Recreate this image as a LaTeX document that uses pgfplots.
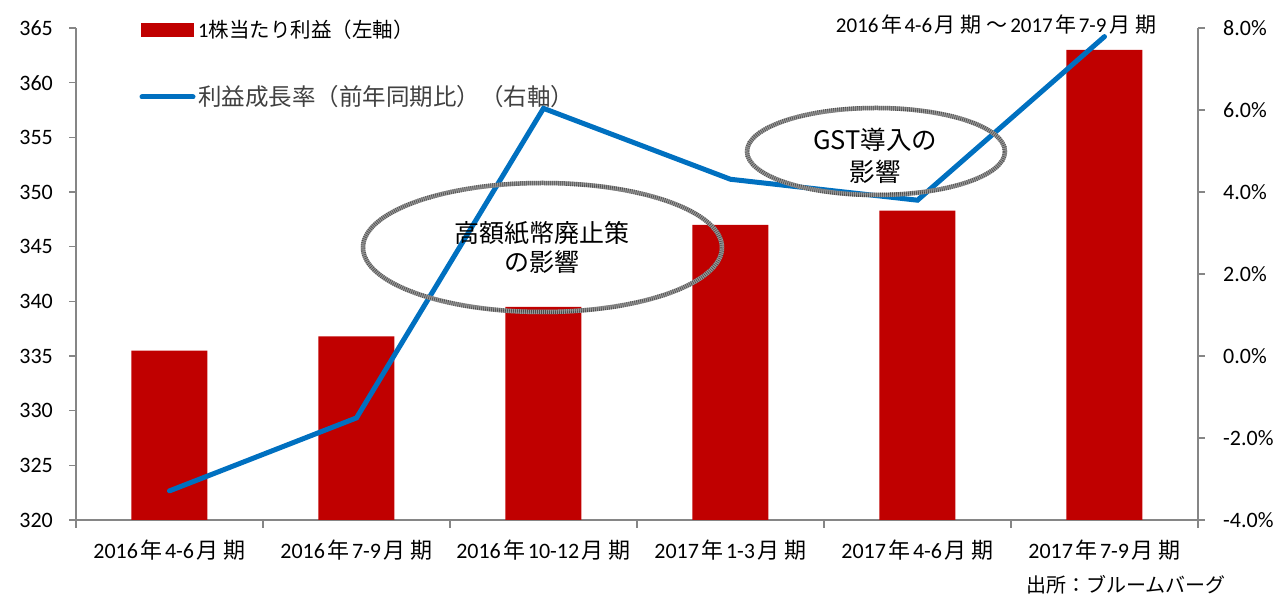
\documentclass[border=0pt]{standalone}
\usepackage{fontspec}
\setmainfont{Carlito}
\newfontfamily\cjk{Noto Sans CJK JP}
\usepackage{pgfplots}
\pgfplotsset{compat=1.18}
\definecolor{barred}{HTML}{C00000}
\definecolor{lineblue}{HTML}{0070C0}
\definecolor{axgray}{HTML}{868686}
\newcommand\jc[1]{\hspace{2.5pt}{\cjk #1}\hspace{2.5pt}}
\begin{document}
\begin{tikzpicture}[x=1pt,y=1pt]
\useasboundingbox (0,0) rectangle (1282,599);
\begin{axis}[
  at={(76pt,79pt)}, anchor=south west,
  scale only axis, width=1122pt, height=492pt,
  xmin=-0.5, xmax=5.5, ymin=320, ymax=365,
  axis x line*=bottom, axis y line*=left,
  axis line style={-, axgray, line width=1.4pt},
  tick align=outside,
  tick style={axgray, line width=1.2pt},
  major tick length=7pt, minor tick length=8pt,
  xtick={0,1,2,3,4,5},
  minor xtick={-0.5,0.5,1.5,2.5,3.5,4.5,5.5},
  major x tick style={draw=none},
  xticklabels={
    2016\jc{年}4-6\jc{月}\jc{期},
    2016\jc{年}7-9\jc{月}\jc{期},
    2016\jc{年}10-12\jc{月}\jc{期},
    2017\jc{年}1-3\jc{月}\jc{期},
    2017\jc{年}4-6\jc{月}\jc{期},
    2017\jc{年}7-9\jc{月}\jc{期}},
  ytick={320,325,330,335,340,345,350,355,360,365},
  /pgf/number format/assume math mode=true,
  tick label style={font=\fontsize{22}{26}\selectfont, text=black},
  xticklabel style={anchor=base, yshift=-32pt},
  yticklabel style={anchor=east, inner sep=0pt, xshift=-16pt},
  clip=false,
]
\addplot[ybar, bar width=76pt, fill=barred, draw=none]
  coordinates {(0,335.5) (1,336.8) (2,339.5) (3,347.0) (4,348.3) (5,363.0)};
\end{axis}
\begin{axis}[
  at={(76pt,79pt)}, anchor=south west,
  scale only axis, width=1122pt, height=492pt,
  xmin=-0.5, xmax=5.5, ymin=-4, ymax=8,
  axis x line=none, axis y line*=right,
  axis line style={-, axgray, line width=1.4pt},
  tick align=outside,
  tick style={axgray, line width=1.2pt},
  major tick length=7pt,
  ytick={-4,-2,0,2,4,6,8},
  yticklabels={-4.0\%,-2.0\%,0.0\%,2.0\%,4.0\%,6.0\%,8.0\%},
  tick label style={font=\fontsize{22}{26}\selectfont, text=black},
  yticklabel style={anchor=west, inner sep=0pt, xshift=18pt},
  clip=false,
]
\addplot[lineblue, line width=5pt, line cap=round]
  coordinates {(0,-3.29) (1,-1.51) (2,6.04) (3,4.31) (4,3.80) (5,7.79)};
\end{axis}
% annotations
\tikzset{ellbase/.style={draw=black!40, line width=4.5pt},
         elltex/.style={draw=black!70, line width=4.5pt, dash pattern=on 0.6pt off 1.4pt}}
\draw[ellbase] (542.5,351.5) ellipse [x radius=179.5pt, y radius=64.5pt];
\draw[elltex] (542.5,351.5) ellipse [x radius=179.5pt, y radius=64.5pt];
\draw[ellbase] (876,447.5) ellipse [x radius=129pt, y radius=43.5pt];
\draw[elltex] (876,447.5) ellipse [x radius=129pt, y radius=43.5pt];
\node[font=\cjk\fontsize{25}{28}\selectfont, inner sep=0pt] at (542,366) {高額紙幣廃止策};
\node[font=\cjk\fontsize{25}{28}\selectfont, inner sep=0pt] at (542,337) {の影響};
\node[font=\cjk\fontsize{25.5}{28}\selectfont, inner sep=0pt] at (875,459) {GST導入の};
\node[font=\cjk\fontsize{25.5}{28}\selectfont, inner sep=0pt] at (875,427) {影響};
% legend
\fill[barred] (141,562) rectangle (194,576);
\node[anchor=west, inner sep=0pt, font=\fontsize{20.5}{24}\selectfont] at (198,569) {1{\cjk 株当たり利益（左軸）}};
\draw[lineblue, line width=5pt, line cap=round] (142,502) -- (193,502);
\node[anchor=west, inner sep=0pt, text=black!75, font=\cjk\fontsize{23.5}{26}\selectfont] at (198,502) {利益成長率（前年同期比）（右軸）};
% top-right range text
\node[inner sep=0pt, font=\fontsize{21}{25}\selectfont] at (996,574) {2016\jc{年}4-6\jc{月}\jc{期}\jc{～}2017\jc{年}7-9\jc{月}\jc{期}};
% source
\node[anchor=east, inner sep=0pt, font=\cjk\fontsize{20}{24}\selectfont] at (1226,14) {出所：ブルームバーグ};
\end{tikzpicture}
\end{document}
